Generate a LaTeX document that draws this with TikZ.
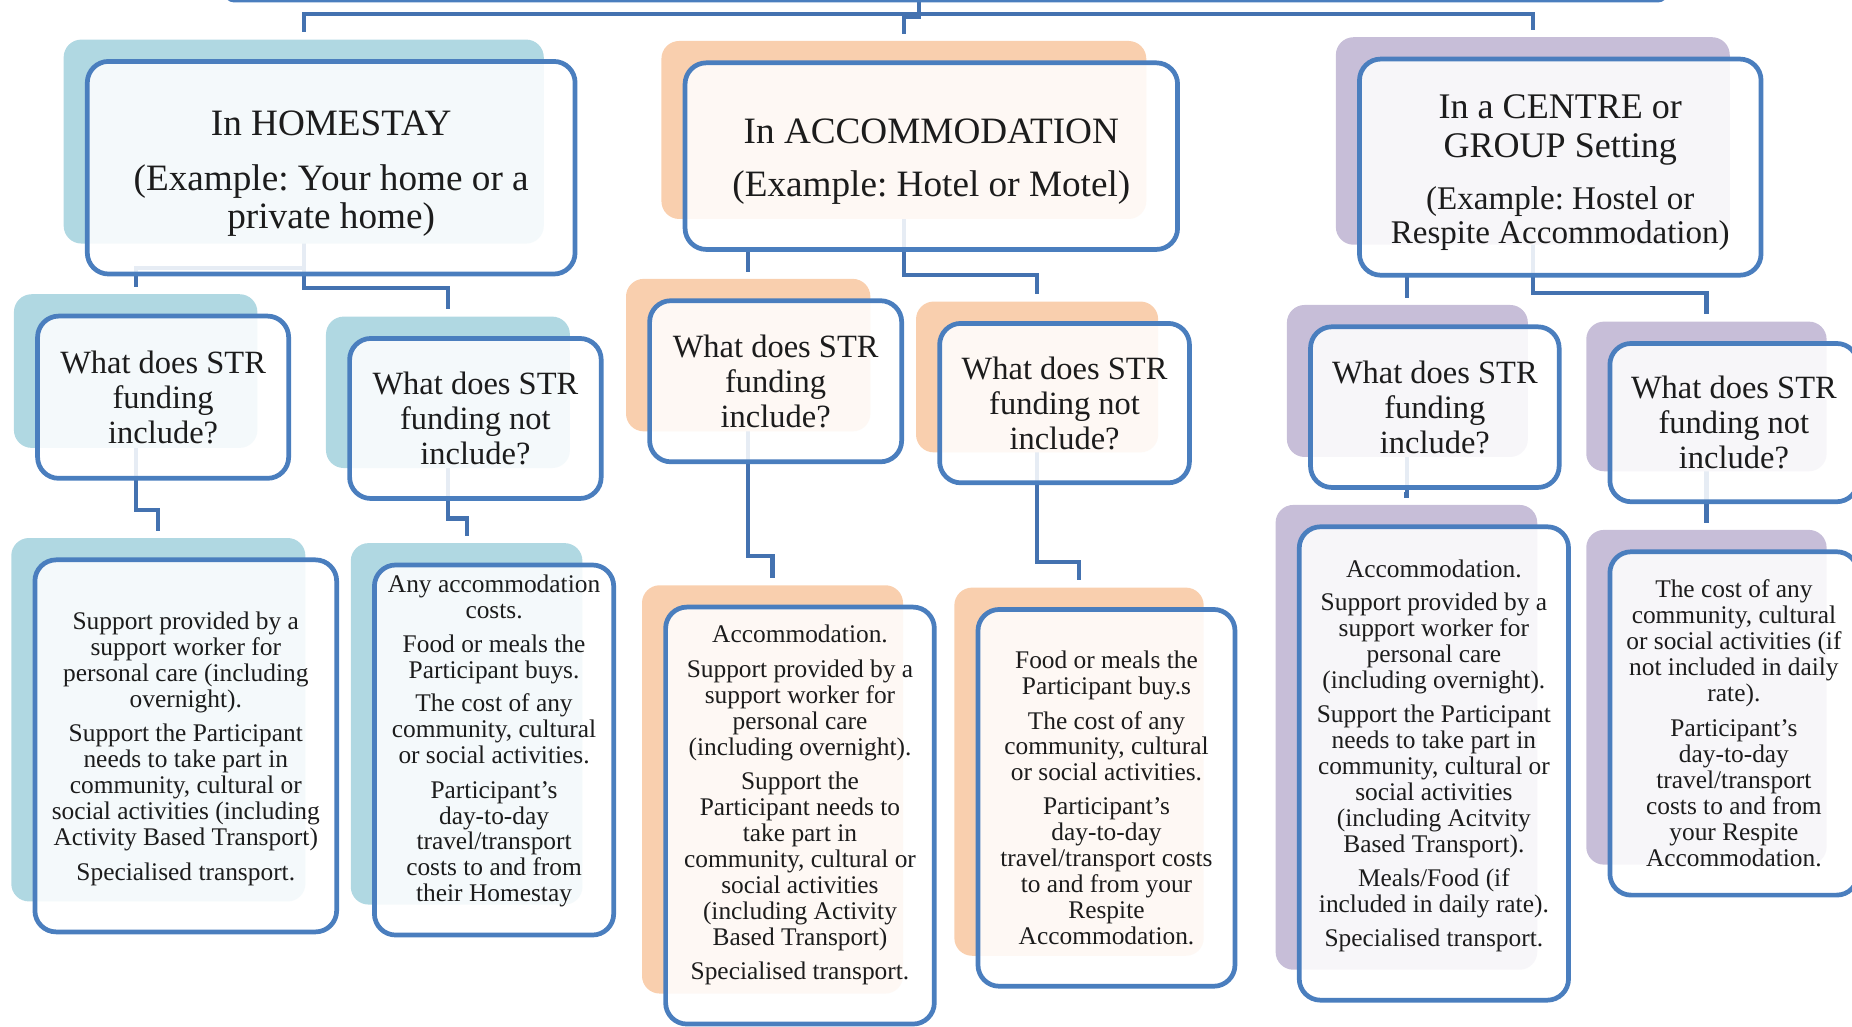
\documentclass[tikz,border=0pt]{standalone}
\usepackage{fontspec}
\setmainfont{Liberation Serif}
\frenchspacing
\usetikzlibrary{fit}
\definecolor{edgeblue}{HTML}{4A7EBE}
\definecolor{linkblue}{HTML}{4472B0}
\definecolor{shblue}{HTML}{B0D8E2}
\definecolor{shorange}{HTML}{F9CFAE}
\definecolor{shpurple}{HTML}{C7BED8}
\definecolor{ink}{HTML}{1C1C1C}
\pgfdeclarelayer{links}
\pgfdeclarelayer{shadows}
\pgfsetlayers{links,shadows,main}
\newcommand\examplefont{\fontsize{28}{29.6}\selectfont}
\tikzset{
  card/.style={rectangle, draw=edgeblue, line width=4pt, rounded corners=18pt, outer sep=0pt,
    fill=white, fill opacity=0.87, text opacity=1, text=ink, align=center, inner sep=0pt},
  wh/.style 2 args={minimum width=#1pt, minimum height=#2pt},
  settingtext/.style={align=center, inner sep=0pt, text=ink, font=\fontsize{31.5}{32.5}\selectfont},
  question/.style={card, font=\fontsize{27.5}{29.5}\selectfont},
  detail/.style={card, font=\fontsize{21.5}{22}\selectfont},
  detailtext/.style={align=center, inner sep=0pt, text=ink, font=\fontsize{21.5}{22}\selectfont},
  backcard/.style={rectangle, draw=none, rounded corners=15pt, inner sep=0pt},
  link/.style={draw=linkblue, line width=3.5pt, shorten >=6pt},
}
\begin{document}
\begin{tikzpicture}[x=1pt, y=-1pt]
\useasboundingbox (0,0) rectangle (1568,869);

% root box, only its lower edge is inside the page
\node[card, rounded corners=6pt, wh={1218}{80}] (root) at (801,-40) {};

% settings
\node[card, wh={413}{180}] (hs) at (280.4,142) {};
\node[settingtext] (hsT) at ([yshift=-5pt]hs.center)
  {In HOMESTAY\\[14pt](Example: Your home or a\\private home)};
\node[card, wh={417}{158}] (acc) at (788.5,132.2) {};
\node[settingtext] (accT) at ([yshift=-5pt]acc.center)
  {In ACCOMMODATION\\[12.5pt](Example: Hotel or Motel)};
\node[card, wh={340}{183}] (cen) at (1321,141.5) {};
\node[settingtext, font=\fontsize{30.5}{32.5}\selectfont] (cenT) at ([yshift=-5pt]cen.center)
  {In a CENTRE or\\GROUP Setting\\[11.3pt]\examplefont (Example: Hostel or\\[-2.9pt]\examplefont Respite Accommodation)};

% questions
\node[question, wh={212.6}{137.4}] (hs1) at (138.1,336.3) {What does STR\\funding\\include?};
\node[question, wh={213}{135.5}] (hs2) at (402.5,354.3) {What does STR\\funding not\\include?};
\node[question, wh={213.4}{136.4}] (acc1) at (656.7,322.8) {What does STR\\funding\\include?};
\node[question, wh={211.5}{135}] (acc2) at (901.3,341.3) {What does STR\\funding not\\include?};
\node[question, wh={210.5}{136}] (cen1) at (1214.8,344.7) {What does STR\\funding\\include?};
\node[question, wh={210}{134}] (cen2) at (1468,357.8) {What does STR\\funding not\\include?};

% details
\node[detail, wh={255.5}{315}] (hs3a) at (157.3,631.5) {};
\node[detailtext] (hs3aT) at ([yshift=-2.5pt]hs3a.center)
  {Support provided by a\\support worker for\\personal care (including\\overnight).\\[7pt]Support the Participant\\needs to take part in\\community, cultural or\\social activities (including\\Activity Based Transport)\\[7pt]Specialised transport.};
\node[detail, wh={202.6}{313.3}] (hs3b) at (418.3,635) {};
\node[detailtext] (hs3bT) at ([yshift=7.5pt]hs3b.center)
  {Any accommodation\\costs.\\[6.5pt]Food or meals the\\Participant buys.\\[6.5pt]The cost of any\\community, cultural\\or social activities.\\[7pt]Participant’s\\day-to-day\\travel/transport\\costs to and from\\their Homestay};
\node[detail, wh={227.5}{353}] (acc3a) at (677.3,690.5) {};
\node[detailtext] (acc3aT) at ([yshift=9pt]acc3a.center)
  {Accommodation.\\[7.6pt]Support provided by a\\support worker for\\personal care\\(including overnight).\\[7.3pt]Support the\\Participant needs to\\take part in\\community, cultural or\\social activities\\(including Activity\\Based Transport)\\[6.7pt]Specialised transport.};
\node[detail, wh={217.6}{319}] (acc3b) at (936.8,675.5)
  {Food or meals the\\Participant buy.s\\[7.6pt]The cost of any\\community, cultural\\or social activities.\\[6.8pt]Participant’s\\day-to-day\\travel/transport costs\\to and from your\\Respite\\Accommodation.};
\node[detail, wh={228}{400.8}] (cen3a) at (1214,646.4) {};
\node[detailtext] (cen3aT) at ([yshift=6.4pt]cen3a.center)
  {Accommodation.\\[6pt]Support provided by a\\support worker for\\personal care\\(including overnight).\\[6.7pt]Support the Participant\\needs to take part in\\community, cultural or\\social activities\\(including Acitvity\\Based Transport).\\[6.7pt]Meals/Food (if\\included in daily rate).\\[7pt]Specialised transport.};
\node[detail, wh={210}{290.7}] (cen3b) at (1468,612.5)
  {The cost of any\\community, cultural\\or social activities (if\\not included in daily\\rate).\\[7.6pt]Participant’s\\day-to-day\\travel/transport\\costs to and from\\your Respite\\Accommodation.};

% coloured cards behind the boxes
\begin{pgfonlayer}{shadows}
\foreach \n/\c in {root/shblue, hs/shblue, hs1/shblue, hs2/shblue, hs3a/shblue, hs3b/shblue,
    acc/shorange, acc1/shorange, acc2/shorange, acc3a/shorange, acc3b/shorange,
    cen/shpurple, cen1/shpurple, cen2/shpurple, cen3a/shpurple, cen3b/shpurple}
  \node[backcard, fill=\c, fit={([shift={(-20,-18.5)}]\n.north west) ([shift={(-26.5,-25.8)}]\n.south east)}] (\n S) {};
\end{pgfonlayer}

% elbow connectors, card centre to card top
\begin{pgfonlayer}{links}
\foreach \p/\c/\k in {root/hs/12, root/acc/14.5, root/cen/12,
    hs/hs1/226.6, hs/hs2/244, acc/acc1/211, acc/acc2/233, cen/cen1/232.5, cen/cen2/248,
    hs1/hs3a/432, hs2/hs3b/439, acc1/acc3a/471, acc2/acc3b/475.6, cen1/cen3a/418, cen2/cen3b/440}
  \draw[link] (\p S.center) -- (\p S.center |- 0,\k) -| (\c S.north);
\end{pgfonlayer}
\end{tikzpicture}
\end{document}
